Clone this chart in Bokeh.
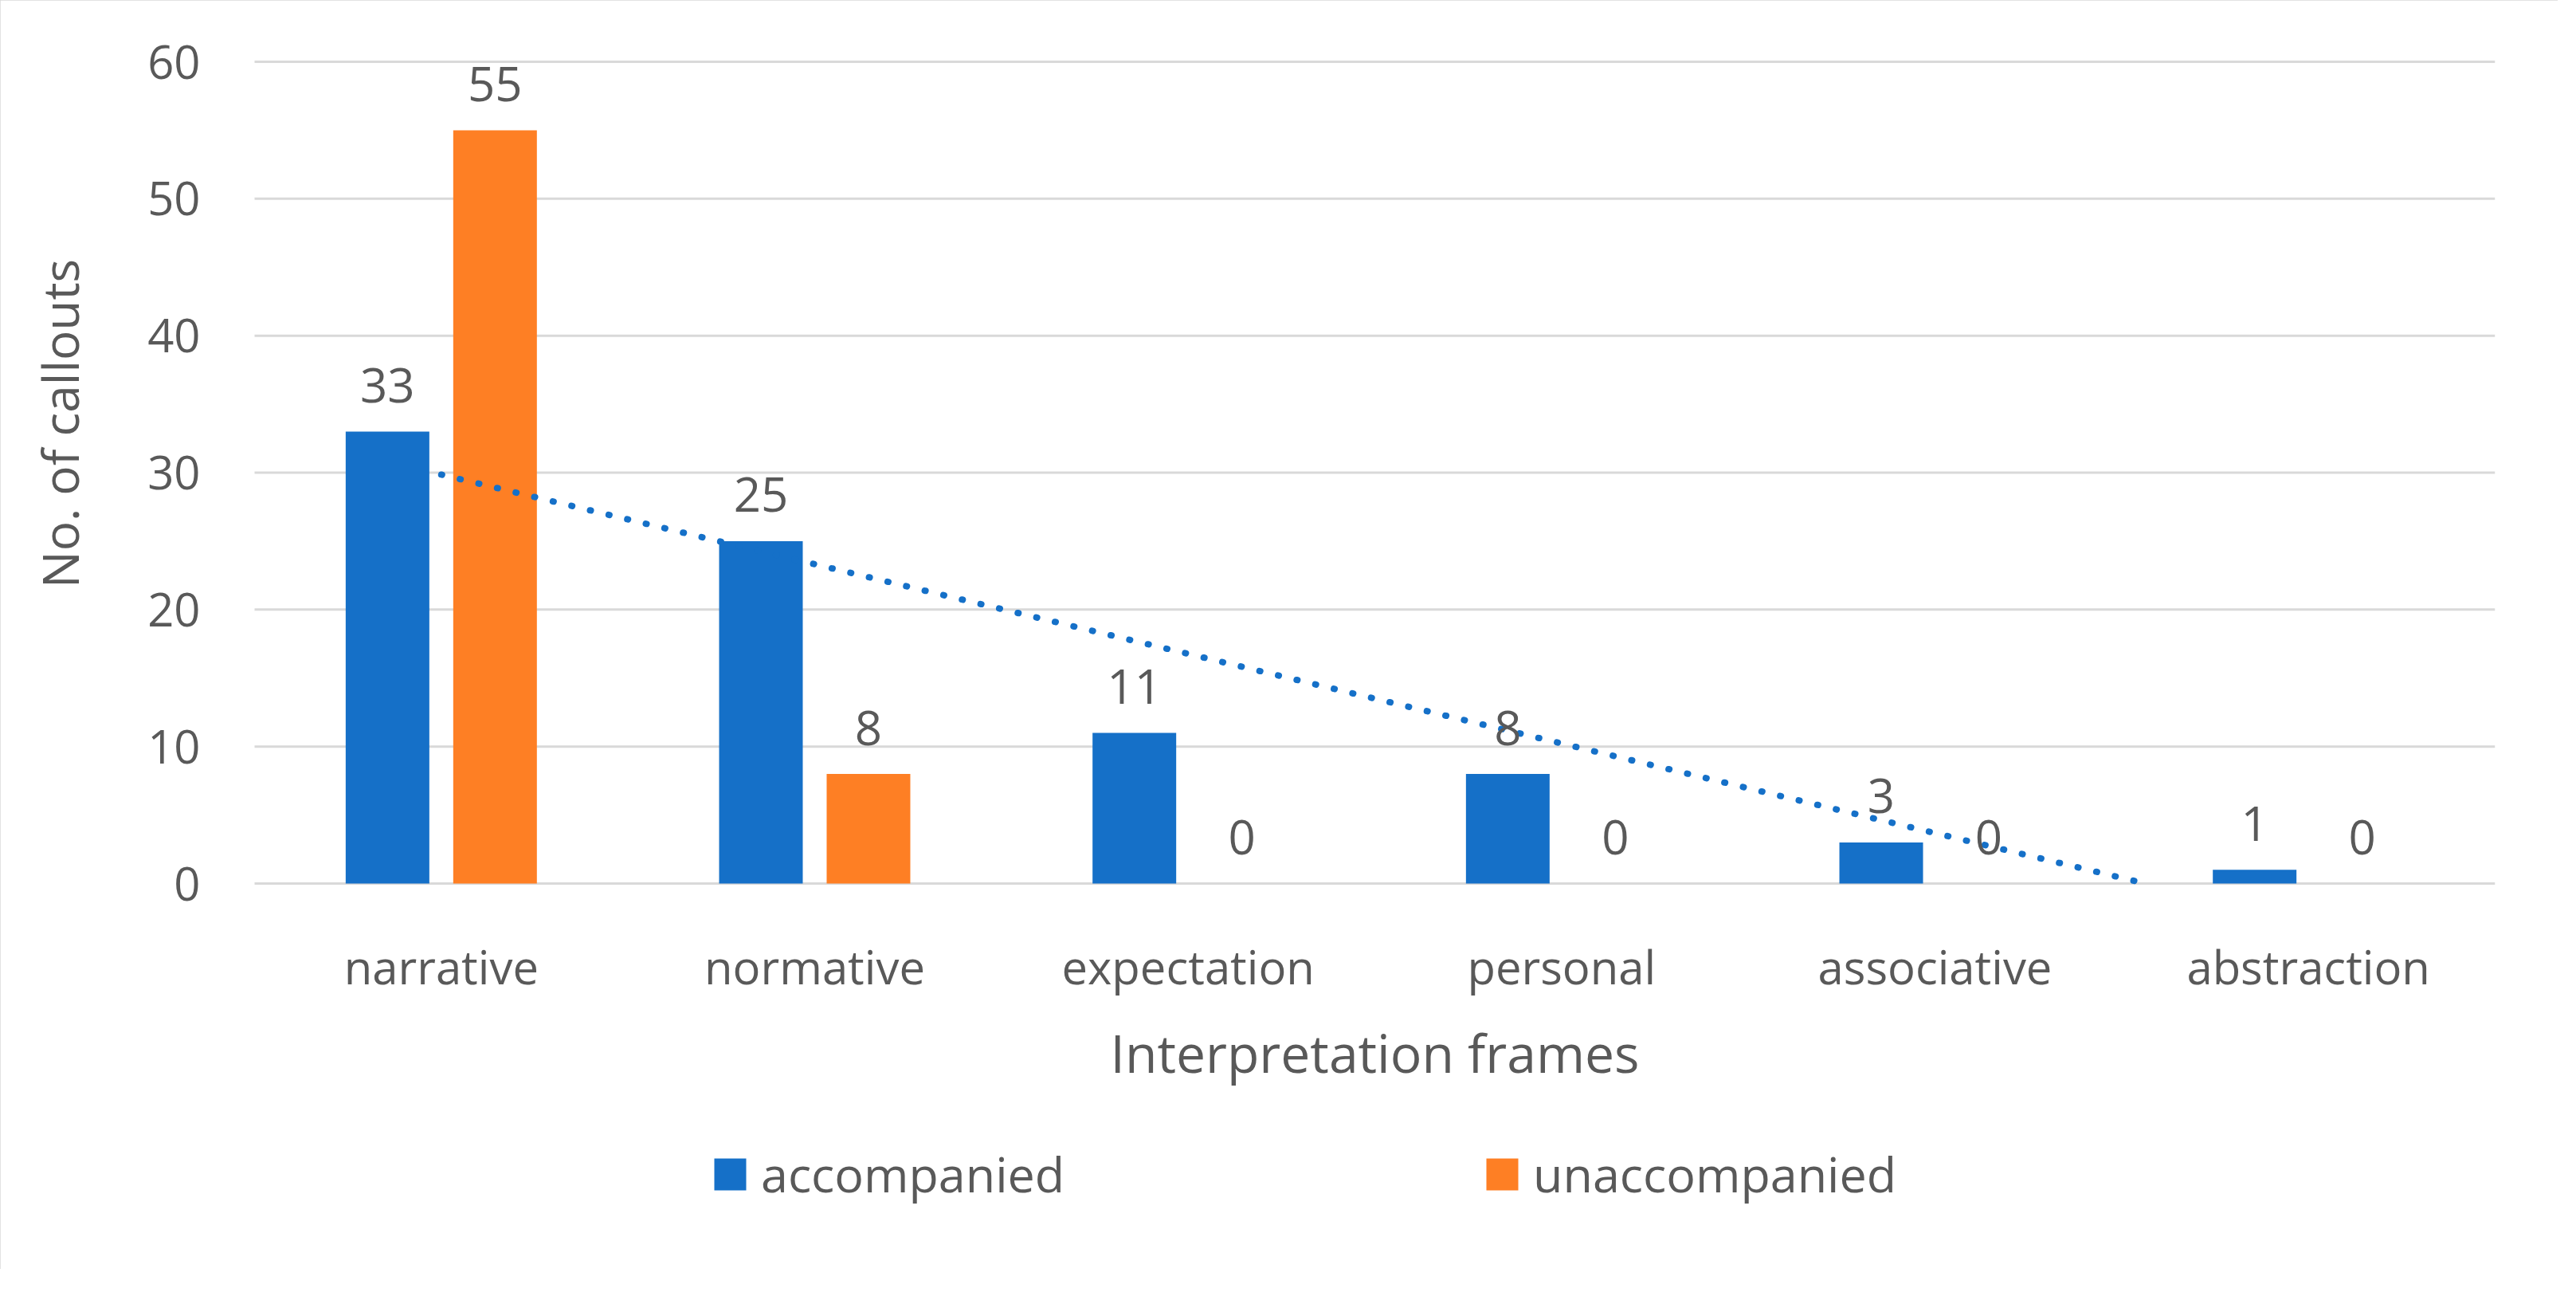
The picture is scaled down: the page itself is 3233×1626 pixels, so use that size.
from bokeh.plotting import figure
from bokeh.models import ColumnDataSource, Range1d, FixedTicker, Legend, LegendItem, Label
from bokeh.embed import file_html
from bokeh.resources import INLINE
from bokeh.core.properties import value
import numpy as np

categories = ["narrative", "normative", "expectation", "personal", "associative", "abstraction"]
accompanied = [33, 25, 11, 8, 3, 1]
unaccompanied = [55, 8, 0, 0, 0, 0]
y_ticks = [0, 10, 20, 30, 40, 50, 60]

BLUE = "#1570c8"
ORANGE = "#fe7f24"
TEXT = "#595959"
GRID = "#d9d9d9"
FONT = "Open Sans"

xs = list(range(1, len(categories) + 1))
BAR_W = 0.224
OFF = 0.144

# ---- layout (page pixels; the figure's canvas starts at page (8, 8)) ----
PAGE = 8
FIG_W, FIG_H = 3210, 1592
MB_L, MB_R, MB_T, MB_B = 10, 79, 10, 10
FRAME_W = FIG_W - MB_L - MB_R
FRAME_H = FIG_H - MB_T - MB_B
FRAME_LEFT = PAGE + MB_L
FRAME_TOP = PAGE + MB_T
FRAME_BOTTOM = FRAME_TOP + FRAME_H
AREA_LEFT, AREA_RIGHT = 327, FRAME_LEFT + FRAME_W   # category area
AREA_TOP, AREA_ZERO = 85, 1116                       # value 60 and value 0
Y_MAX = 60
x_lo, x_hi = xs[0] - 0.5, xs[-1] + 0.5
x_px = (AREA_RIGHT - AREA_LEFT) / (x_hi - x_lo)
y_px = (AREA_ZERO - AREA_TOP) / Y_MAX
x_start = x_lo - (AREA_LEFT - FRAME_LEFT) / x_px
y_end = (AREA_ZERO - FRAME_TOP) / y_px
y_start = -(FRAME_BOTTOM - AREA_ZERO) / y_px


def to_x(px):
    return x_start + (px - FRAME_LEFT) / x_px


def to_y(py):
    return (AREA_ZERO - py) / y_px


src = ColumnDataSource(dict(
    x=xs,
    x1=[v - OFF for v in xs],
    x2=[v + OFF for v in xs],
    acc=accompanied,
    una=unaccompanied,
    acc_lbl=[str(v) for v in accompanied],
    una_lbl=[str(v) for v in unaccompanied],
))

p = figure(
    frame_width=FRAME_W, frame_height=FRAME_H,
    x_range=Range1d(x_start, x_hi), y_range=Range1d(y_start, y_end),
    output_backend="svg", toolbar_location=None,
    min_border_left=MB_L, min_border_right=MB_R, min_border_top=MB_T, min_border_bottom=MB_B,
    background_fill_color="white", border_fill_color="white",
)
p.styles = {"outline": "3px solid #d9d9d9", "outline-offset": "-3px"}
p.outline_line_color = None
p.xgrid.grid_line_color = None
p.ygrid.grid_line_color = None

# horizontal gridlines over the category area only
p.segment(x0=[x_lo] * len(y_ticks), x1=[x_hi] * len(y_ticks), y0=y_ticks, y1=y_ticks,
          line_color=GRID, line_width=3)

r1 = p.vbar(x="x1", top="acc", width=BAR_W, source=src, fill_color=BLUE, line_color=None)
r2 = p.vbar(x="x2", top="una", width=BAR_W, source=src, fill_color=ORANGE, line_color=None)

# linear trendline of accompanied series (Excel-style), stopped at the 0 axis
slope, intercept = np.polyfit(xs, accompanied, 1)
x_end = min(xs[-1], -intercept / slope)
tx = [xs[0], x_end]
ty = [slope * t + intercept for t in tx]
p.line(tx, ty, line_color=BLUE, line_width=8, line_dash="1 23", line_cap="round")

p.text(x="x1", y="acc", text="acc_lbl", source=src, text_align="center",
       text_baseline="alphabetic", y_offset=-58, text_font=value(FONT),
       text_font_size="60px", text_color=TEXT)
p.text(x="x2", y="una", text="una_lbl", source=src, text_align="center",
       text_baseline="alphabetic", y_offset=-58, text_font=value(FONT),
       text_font_size="60px", text_color=TEXT)

p.yaxis.ticker = FixedTicker(ticks=y_ticks)
p.yaxis.fixed_location = x_lo
p.xaxis.ticker = FixedTicker(ticks=xs)
p.xaxis.major_label_overrides = {x: c for x, c in zip(xs, categories)}
p.xaxis.fixed_location = 0

for ax in (p.xaxis[0], p.yaxis[0]):
    ax.axis_line_color = None
    ax.major_tick_line_color = None
    ax.minor_tick_line_color = None
    ax.major_label_text_font = FONT
    ax.major_label_text_font_size = "58px"
    ax.major_label_text_color = TEXT

p.xaxis.major_label_standoff = 58
p.yaxis.major_label_standoff = 62

# axis titles, placed as in the reference
xtitle = Label(
    x=to_x((AREA_LEFT + AREA_RIGHT) / 2), y=to_y(1327),
    text="Interpretation frames", text_align="center", text_baseline="alphabetic",
    text_font=FONT, text_font_size="66px", text_color=TEXT,
)
ytitle = Label(
    x=to_x(82), y=to_y(539),
    text="No. of callouts", angle=np.pi / 2, text_align="center",
    text_baseline="alphabetic", text_font=FONT, text_font_size="62px",
    text_color=TEXT,
)
p.add_layout(xtitle)
p.add_layout(ytitle)

legend = Legend(
    items=[LegendItem(label="accompanied", renderers=[r1]),
           LegendItem(label="unaccompanied", renderers=[r2])],
    orientation="horizontal", location=(899 - FRAME_LEFT, FRAME_BOTTOM - 1522),
    spacing=524, glyph_width=50, glyph_height=50, label_standoff=14,
    label_text_font=FONT, label_text_font_size="61px", label_text_color=TEXT,
    border_line_color=None, background_fill_alpha=0, padding=0, margin=0,
)
p.add_layout(legend, "center")

open("out.html", "w").write(file_html(p, INLINE))
